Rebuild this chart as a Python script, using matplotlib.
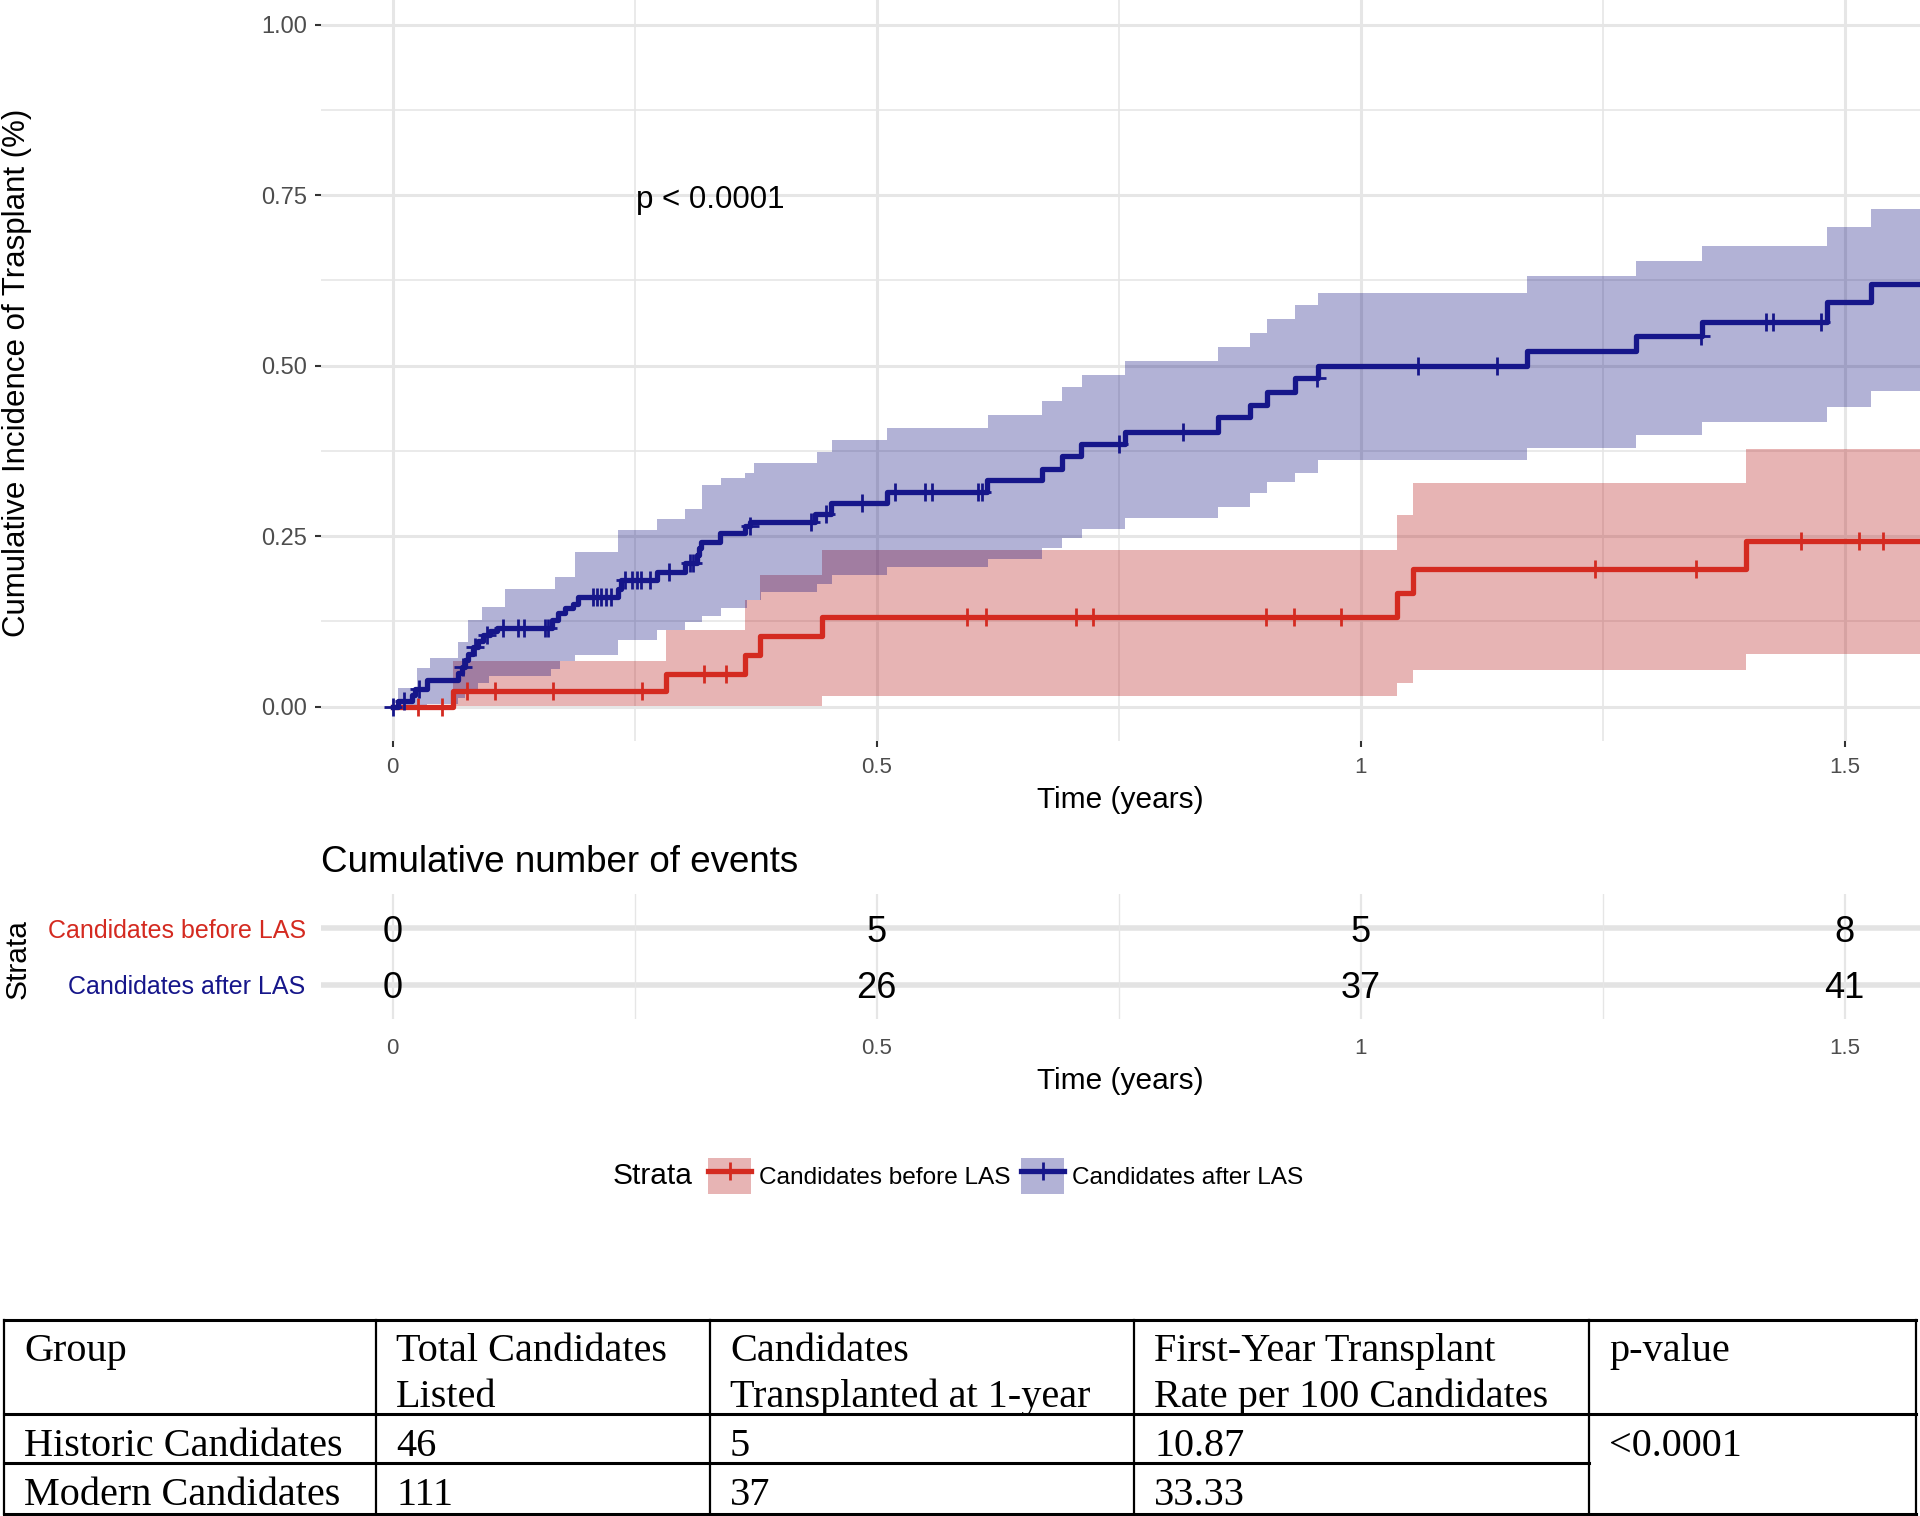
"""Cumulative incidence of transplant before/after LAS, with risk table and summary table."""

import numpy as np
import matplotlib.pyplot as plt
from matplotlib.patches import Patch
from matplotlib.lines import Line2D

plt.rcParams["font.family"] = ["Liberation Sans", "DejaVu Sans"]

W, H = 1920, 1516  # output size in px (dpi 100)

# ---- data (time in years, cumulative incidence) ----
before_t = [0, 0.0626, 0.282, 0.364, 0.3795, 0.4432, 1.0375, 1.054, 1.398]
before_est = [0, 0.022, 0.048, 0.0755, 0.1034, 0.1308, 0.166, 0.201, 0.242]
before_lo = [0, 0.001, 0.001, 0.001, 0.001, 0.016, 0.034, 0.0535, 0.0765]
before_hi = [0, 0.066, 0.112, 0.156, 0.193, 0.2295, 0.281, 0.328, 0.378]
before_cens = [0.0265, 0.0506, 0.0764, 0.1057, 0.1653, 0.258, 0.3216, 0.344,
               0.593, 0.6126, 0.7056, 0.724, 0.902, 0.931, 0.9797, 1.2427,
               1.347, 1.4547, 1.5147, 1.5396]

after_t = [0, 0.0058, 0.0196, 0.023, 0.035, 0.0678, 0.0713, 0.0747, 0.078,
           0.0833, 0.0884, 0.0936, 0.1005, 0.1074, 0.1643, 0.171, 0.178,
           0.1866, 0.1918, 0.233, 0.2355, 0.2727, 0.302, 0.314, 0.3165, 0.319,
           0.338, 0.364, 0.3695, 0.436, 0.453, 0.511, 0.6145, 0.671, 0.692,
           0.7115, 0.757, 0.8525, 0.886, 0.903, 0.932, 0.956, 1.172, 1.285,
           1.353, 1.482, 1.527]
after_est = [0, 0.0085, 0.017, 0.025, 0.039, 0.049, 0.058, 0.068, 0.077,
             0.087, 0.096, 0.105, 0.110, 0.1147, 0.127, 0.137, 0.144,
             0.151, 0.161, 0.173, 0.1855, 0.1977, 0.21, 0.222, 0.232, 0.2417,
             0.254, 0.264, 0.271, 0.283, 0.299, 0.314, 0.332, 0.349, 0.367,
             0.385, 0.403, 0.424, 0.442, 0.4616, 0.481, 0.50, 0.5217, 0.543,
             0.5637, 0.593, 0.619]
after_cens = [0.0, 0.012, 0.027, 0.073, 0.085, 0.097, 0.114, 0.130, 0.136,
              0.157, 0.1605, 0.207, 0.211, 0.2155, 0.2206, 0.2258, 0.24,
              0.2468, 0.2527, 0.257, 0.2658, 0.2858, 0.307, 0.3106, 0.369,
              0.4326, 0.4477, 0.4845, 0.519, 0.55, 0.5568, 0.6045, 0.6088,
              0.750, 0.817, 0.955, 1.0595, 1.141, 1.352, 1.419, 1.426, 1.476]
after_band_t = [0, 0.0058, 0.0248, 0.035, 0.0385, 0.068, 0.075, 0.078, 0.088,
                0.092, 0.100, 0.116, 0.164, 0.168, 0.173, 0.188, 0.233,
                0.2735, 0.3025, 0.3198, 0.339, 0.364, 0.3665, 0.373, 0.381,
                0.438, 0.4535, 0.511, 0.615, 0.671, 0.692, 0.712, 0.757,
                0.853, 0.886, 0.903, 0.932, 0.956, 1.172, 1.285, 1.353,
                1.482, 1.527]
after_band_lo = [0, 0, 0, 0.003, 0.003, 0.012, 0.025, 0.025, 0.035,
                 0.035, 0.044, 0.044, 0.055, 0.055, 0.066, 0.0755, 0.0975,
                 0.112, 0.124, 0.1327, 0.144, 0.144, 0.156, 0.156, 0.168,
                 0.180, 0.193, 0.205, 0.217, 0.232, 0.2466, 0.261, 0.276,
                 0.293, 0.3126, 0.3296, 0.342, 0.361, 0.379, 0.3975, 0.417,
                 0.439, 0.462]
after_band_hi = [0, 0.027, 0.056, 0.056, 0.071, 0.095, 0.095, 0.127, 0.127,
                 0.146, 0.146, 0.173, 0.173, 0.190, 0.190, 0.227, 0.259,
                 0.2745, 0.290, 0.325, 0.335, 0.343, 0.343, 0.3566, 0.3566,
                 0.3737, 0.391, 0.408, 0.4274, 0.448, 0.468, 0.486, 0.507,
                 0.5276, 0.548, 0.568, 0.589, 0.607, 0.631, 0.653, 0.675,
                 0.703, 0.730]

strata = ["Candidates before LAS", "Candidates after LAS"]
risk_times = [0, 0.5, 1, 1.5]
risk_before = [0, 5, 5, 8]
risk_after = [0, 26, 37, 41]

table_header = [["Group", ""], ["Total Candidates", "Listed"],
                ["Candidates", "Transplanted at 1-year"],
                ["First-Year Transplant", "Rate per 100 Candidates"],
                ["p-value", ""]]
table_rows = [["Historic Candidates", "46", "5", "10.87"],
              ["Modern Candidates", "111", "37", "33.33"]]
table_pvalue = "<0.0001"

# ---- styling ----
RED = "#D42A20"
BLUE = "#16168A"
RED_FILL = "#B20808"
BLUE_FILL = "#000078"
GRID = "#E6E6E6"
TICK_GRAY = "#4D4D4D"
X_MIN, X_MAX = -0.074, 1.578


def fx(x):
    return x / W


def fy(y):
    return 1 - y / H


def extend(t, *vals):
    """Append the right axis limit so the last step runs to the edge."""
    out = [list(t) + [X_MAX]]
    for v in vals:
        out.append(list(v) + [v[-1]])
    return out


def at(t, est, times):
    idx = np.searchsorted(t, times, side="right") - 1
    return np.asarray(est)[idx]


fig = plt.figure(figsize=(W / 100, H / 100), dpi=100)

# ---------------- main panel ----------------
ax = fig.add_axes([fx(321), fy(740.6), 1 - fx(321), 740.6 / H])
ax.set_xlim(X_MIN, X_MAX)
ax.set_ylim(-0.05, 1.036)
for s in ax.spines.values():
    s.set_visible(False)
ax.set_xticks([0, 0.5, 1, 1.5])
ax.set_xticklabels(["0", "0.5", "1", "1.5"])
ax.set_xticks([0.25, 0.75, 1.25], minor=True)
ax.set_yticks([0, 0.25, 0.5, 0.75, 1.0])
ax.set_yticklabels(["0.00", "0.25", "0.50", "0.75", "1.00"])
ax.set_yticks([0.125, 0.375, 0.625, 0.875], minor=True)
ax.grid(True, which="major", color=GRID, lw=2.2)
ax.grid(True, which="minor", color=GRID, lw=1.2)
ax.set_axisbelow(True)
ax.tick_params(which="major", length=4, width=1.5, color="#333333",
               labelcolor=TICK_GRAY, pad=6)
ax.tick_params(axis="y", labelsize=17)
ax.tick_params(axis="x", labelsize=16, pad=8)
ax.tick_params(which="minor", length=0)

bt, blo, bhi = extend(before_t, before_lo, before_hi)
ax.fill_between(bt, blo, bhi, step="post", color=RED_FILL, alpha=0.3, lw=0)
at_, alo, ahi = extend(after_band_t, after_band_lo, after_band_hi)
ax.fill_between(at_, alo, ahi, step="post", color=BLUE_FILL, alpha=0.3, lw=0)

bt, bes = extend(before_t, before_est)
ax.step(bt, bes, where="post", color=RED, lw=3.8)
ax.plot(before_cens, at(before_t, before_est, before_cens), "+",
        color=RED, ms=13, mew=2)
at_, aes = extend(after_t, after_est)
ax.step(at_, aes, where="post", color=BLUE, lw=3.8)
ax.plot(after_cens, at(after_t, after_est, after_cens), "+",
        color=BLUE, ms=13, mew=2)

ax.text(0.328, 0.742, "p < 0.0001", ha="center", va="center", fontsize=22.5)

fig.text(fx(17), fy(373), "Cumulative Incidence of Trasplant (%)",
         rotation=90, ha="center", va="center", fontsize=22.5)
fig.text(fx(1120), fy(800), "Time (years)", ha="center", va="center",
         fontsize=21.5)

# ---------------- risk table ----------------
fig.text(fx(321), fy(862), "Cumulative number of events", ha="left",
         va="center", fontsize=26.5)
rax = fig.add_axes([fx(321), fy(1019), 1 - fx(321), 125 / H])
rax.set_xlim(X_MIN, X_MAX)
rax.set_ylim(0.4, 2.6)
for s in rax.spines.values():
    s.set_visible(False)
rax.set_xticks([0, 0.5, 1, 1.5])
rax.set_xticklabels(["0", "0.5", "1", "1.5"])
rax.set_xticks([0.25, 0.75, 1.25], minor=True)
rax.xaxis.grid(True, which="major", color=GRID, lw=1.6)
rax.xaxis.grid(True, which="minor", color=GRID, lw=1.0)
rax.set_yticks([2, 1])
rax.set_yticklabels(strata)
for lab, c in zip(rax.get_yticklabels(), [RED, BLUE]):
    lab.set_color(c)
rax.tick_params(axis="y", length=0, labelsize=18, pad=11)
rax.tick_params(axis="x", which="both", length=0, labelcolor=TICK_GRAY,
                labelsize=16, pad=14)
for yrow in (1, 2):
    rax.axhline(yrow, color="#E3E3E3", lw=4, zorder=0)
rax.set_axisbelow(True)
for t, n in zip(risk_times, risk_before):
    rax.text(t, 2, str(n), ha="center", va="center_baseline", fontsize=26)
for t, n in zip(risk_times, risk_after):
    rax.text(t, 1, str(n), ha="center", va="center_baseline", fontsize=26)
fig.text(fx(18), fy(959), "Strata", rotation=90, ha="center", va="center",
         fontsize=21.5)
fig.text(fx(1120), fy(1081), "Time (years)", ha="center", va="center",
         fontsize=21.5)

# ---------------- legend ----------------
handles = [
    (Patch(facecolor=RED_FILL, alpha=0.3, lw=0),
     Line2D([], [], color=RED, lw=3.8, marker="+", ms=13, mew=2)),
    (Patch(facecolor=BLUE_FILL, alpha=0.3, lw=0),
     Line2D([], [], color=BLUE, lw=3.8, marker="+", ms=13, mew=2)),
]
fig.text(fx(692), fy(1176), "Strata", ha="right", va="center", fontsize=21.5)
fig.legend(handles, strata, ncol=2, loc="center left",
           bbox_to_anchor=(fx(708), fy(1176)), frameon=False, borderpad=0,
           borderaxespad=0, handlelength=1.77, handleheight=1.85,
           handletextpad=0.3, columnspacing=0.45, fontsize=17.6)

# ---------------- summary table ----------------
tax = fig.add_axes([0, 0, 1, 1])
tax.set_xlim(0, W)
tax.set_ylim(H, 0)
tax.axis("off")
col_edges = [4, 376, 710, 1134, 1589, 1916]
row_edges = [1320, 1414, 1463, 1514]
serif = dict(family=["Liberation Serif", "DejaVu Serif"], fontsize=29)
for y in (row_edges[0], row_edges[1], row_edges[3]):
    tax.plot([col_edges[0], col_edges[-1]], [y, y], color="black", lw=2.2)
tax.plot([col_edges[0], col_edges[4]], [row_edges[2]] * 2, color="black",
         lw=2.2)
for x in col_edges:
    tax.plot([x, x], [row_edges[0], row_edges[3]], color="black", lw=1.6)
for j, (l1, l2) in enumerate(table_header):
    tax.text(col_edges[j] + 20, 1361, l1, ha="left", va="baseline", **serif)
    tax.text(col_edges[j] + 20, 1407, l2, ha="left", va="baseline", **serif)
for row, base in zip(table_rows, (1456, 1505)):
    for j, cell in enumerate(row):
        tax.text(col_edges[j] + 20, base, cell, ha="left", va="baseline",
                 **serif)
tax.text(col_edges[4] + 20, 1456, table_pvalue, ha="left", va="baseline",
         **serif)

fig.savefig("out.png", dpi=100)
